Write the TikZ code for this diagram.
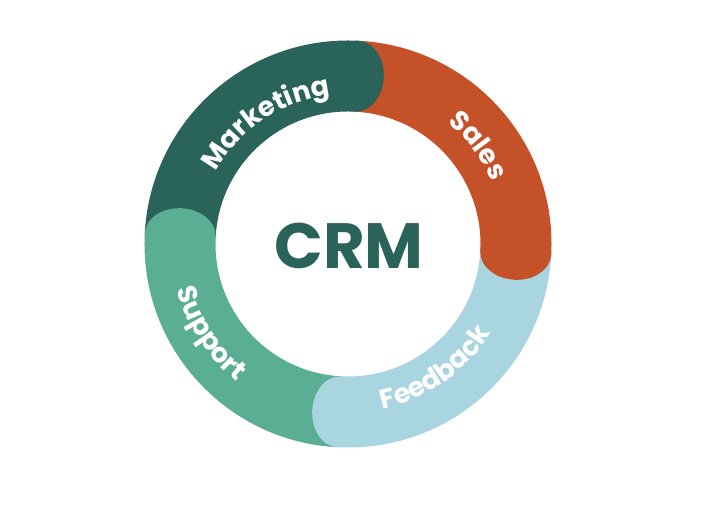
\documentclass[tikz,border=0pt]{standalone}
\usepackage{fontspec}
\setmainfont{Poppins}
\usetikzlibrary{decorations.text}
\definecolor{mktcol}{HTML}{2A6359}
\definecolor{salcol}{HTML}{C45128}
\definecolor{fbcol}{HTML}{A9D5E0}
\definecolor{supcol}{HTML}{59AE93}
\newcommand\lblfont{\bfseries\fontsize{27}{27}\selectfont}
\tikzset{
  arclabel/.style={decorate, decoration={text along path, text={|\lblfont|#1}, text align=center, text color=white}}
}
\begin{document}
\begin{tikzpicture}[x=1pt,y=1pt]
\useasboundingbox[fill=white] (-348,-266) rectangle (372,244);
\def\Ro{203.5}
\def\Ri{132.5}
\def\Rm{168}
% segments (start angle, end angle going clockwise)
\foreach \a/\b/\c in {177/87/mktcol, 87/-3/salcol, -3/-93/fbcol, 267/177/supcol}{
  \fill[\c] (\a:\Ro) arc[start angle=\a, end angle=\b, radius=\Ro]
     -- (\b:\Ri) arc[start angle=\b, end angle=\a, radius=\Ri] -- cycle;
}
% rounded heads
\foreach \b/\c in {87/mktcol, -3/salcol, -93/fbcol, 177/supcol}{
  \fill[\c, shift={(\b:\Rm)}, rotate=\b] (0,0) ellipse[x radius=35.5, y radius=27];
}
% labels
\path[arclabel=Marketing] (156:150) arc[start angle=156, end angle=92, radius=150];
\path[arclabel=Sales] (67:157) arc[start angle=67, end angle=7, radius=157];
\path[arclabel=Feedback] (-88:168.5) arc[start angle=-88, end angle=-22, radius=168.5];
\path[arclabel=Support] (181:177) arc[start angle=181, end angle=245, radius=177];
\node[text=mktcol, font=\bfseries\fontsize{64}{64}\selectfont, inner sep=0pt] (crm) at (1,-2) {CRM};
\end{tikzpicture}
\end{document}
